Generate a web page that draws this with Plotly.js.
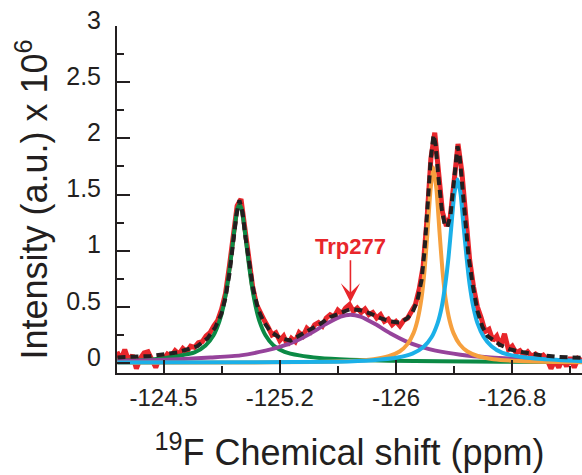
<!DOCTYPE html>
<html>
<head>
<meta charset="utf-8">
<script src="https://cdn.plot.ly/plotly-3.0.1.min.js"></script>
<style>html,body{margin:0;padding:0;background:#fff;}#chart{width:582px;height:475px;}</style>
</head>
<body>
<div id="chart"></div>
<script>
// ---- experimental spectrum (red), ppm and intensity (x 10^6) ----
const expPpm = [-124.2,-124.225,-124.25,-124.275,-124.3,-124.325,-124.35,-124.375,-124.4,-124.425,-124.45,-124.475,-124.5,-124.525,-124.55,-124.575,-124.6,-124.625,-124.65,-124.675,-124.7,-124.725,-124.75,-124.775,-124.8,-124.825,-124.85,-124.875,-124.9,-124.925,-124.95,-124.975,-125,-125.025,-125.05,-125.075,-125.1,-125.125,-125.15,-125.175,-125.2,-125.225,-125.25,-125.275,-125.3,-125.325,-125.35,-125.375,-125.4,-125.425,-125.45,-125.475,-125.5,-125.525,-125.55,-125.575,-125.6,-125.625,-125.65,-125.675,-125.7,-125.725,-125.75,-125.775,-125.8,-125.825,-125.85,-125.875,-125.9,-125.925,-125.95,-125.975,-126,-126.025,-126.05,-126.075,-126.1,-126.125,-126.15,-126.175,-126.2,-126.225,-126.25,-126.275,-126.3,-126.325,-126.35,-126.375,-126.4,-126.425,-126.45,-126.475,-126.5,-126.525,-126.55,-126.575,-126.6,-126.625,-126.65,-126.675,-126.7,-126.725,-126.75,-126.775,-126.8,-126.825,-126.85,-126.875,-126.9,-126.925,-126.95,-126.975,-127,-127.025,-127.05,-127.075,-127.1,-127.125,-127.15,-127.175,-127.2];
const expInt = [0.10,0.03,0.12,0.02,0.07,-0.05,0.04,0.09,0.10,0.03,-0.04,0.05,0.03,0.08,0.06,0.11,0.08,0.13,0.10,0.15,0.14,0.18,0.19,0.24,0.27,0.33,0.38,0.48,0.62,0.86,1.15,1.40,1.46,1.22,0.92,0.68,0.52,0.44,0.38,0.32,0.25,0.27,0.20,0.24,0.16,0.22,0.19,0.27,0.24,0.31,0.28,0.34,0.36,0.33,0.40,0.43,0.41,0.47,0.44,0.49,0.52,0.46,0.49,0.45,0.48,0.43,0.45,0.40,0.43,0.37,0.39,0.34,0.37,0.33,0.38,0.40,0.47,0.52,0.66,0.86,1.28,1.82,2.05,1.70,1.34,1.22,1.30,1.62,1.95,1.70,1.25,0.92,0.68,0.50,0.40,0.28,0.30,0.20,0.24,0.15,0.26,0.12,0.15,0.09,0.11,0.07,0.10,0.06,0.08,0.05,0.07,0.03,-0.05,0.02,-0.04,0.04,-0.03,0.05,-0.04,0.04,0.02];

// ---- total fit (black dashed) ----
const fitPpm = [-124.203,-124.416,-124.590,-124.719,-124.784,-124.835,-124.874,-124.900,-124.926,-124.952,-124.971,-124.990,-125.010,-125.029,-125.055,-125.081,-125.113,-125.145,-125.190,-125.255,-125.319,-125.384,-125.448,-125.513,-125.577,-125.642,-125.706,-125.771,-125.835,-125.900,-125.965,-126.029,-126.074,-126.106,-126.139,-126.165,-126.184,-126.203,-126.223,-126.242,-126.255,-126.274,-126.294,-126.313,-126.332,-126.352,-126.371,-126.384,-126.397,-126.410,-126.429,-126.448,-126.468,-126.494,-126.526,-126.558,-126.590,-126.674,-126.739,-126.823,-126.932,-127.042,-127.203];
const fitInt = [0.05,0.062,0.094,0.15,0.22,0.32,0.44,0.58,0.80,1.08,1.32,1.45,1.34,1.12,0.86,0.64,0.47,0.37,0.28,0.22,0.20,0.25,0.29,0.35,0.41,0.45,0.48,0.47,0.44,0.40,0.37,0.36,0.40,0.45,0.56,0.74,1.0,1.38,1.80,2.03,1.95,1.65,1.38,1.24,1.21,1.32,1.58,1.80,1.93,1.85,1.55,1.22,0.95,0.70,0.46,0.32,0.24,0.16,0.12,0.095,0.07,0.055,0.045];

// ---- component peaks ----
const greenPpm = [-124.203,-124.410,-124.603,-124.700,-124.771,-124.823,-124.861,-124.887,-124.913,-124.939,-124.965,-124.977,-124.990,-125.003,-125.016,-125.042,-125.068,-125.094,-125.119,-125.158,-125.210,-125.281,-125.377,-125.506,-125.700,-125.958,-126.281,-126.668,-127.203];
const greenInt = [0.022,0.03,0.065,0.094,0.156,0.247,0.373,0.507,0.705,0.976,1.269,1.372,1.41,1.372,1.269,0.976,0.705,0.507,0.373,0.247,0.156,0.1,0.068,0.045,0.03,0.02,0.015,0.012,0.01];

const purplePpm = [-124.203,-124.416,-124.629,-124.803,-124.997,-125.158,-125.255,-125.352,-125.448,-125.545,-125.642,-125.706,-125.771,-125.868,-125.965,-126.061,-126.158,-126.255,-126.416,-126.610,-126.803,-126.997,-127.203];
const purpleInt = [0.018,0.025,0.035,0.049,0.068,0.11,0.145,0.195,0.262,0.344,0.413,0.43,0.413,0.344,0.262,0.195,0.145,0.11,0.074,0.049,0.035,0.026,0.019];

const orangePpm = [-124.203,-124.952,-125.468,-125.694,-125.855,-125.952,-126.023,-126.074,-126.113,-126.139,-126.165,-126.184,-126.203,-126.223,-126.242,-126.261,-126.281,-126.300,-126.319,-126.345,-126.371,-126.410,-126.461,-126.532,-126.629,-126.790,-127.016,-127.203];
const orangeInt = [0.002,0.004,0.009,0.017,0.034,0.06,0.102,0.168,0.266,0.383,0.581,0.82,1.161,1.547,1.74,1.547,1.161,0.82,0.581,0.383,0.266,0.168,0.102,0.06,0.034,0.017,0.009,0.006];

const bluePpm = [-124.203,-125.106,-125.623,-125.848,-126.010,-126.106,-126.177,-126.229,-126.268,-126.294,-126.319,-126.339,-126.358,-126.377,-126.397,-126.416,-126.435,-126.455,-126.474,-126.500,-126.526,-126.565,-126.616,-126.687,-126.784,-126.945,-127.203];
const blueInt = [0.004,0.006,0.012,0.025,0.049,0.084,0.142,0.229,0.353,0.492,0.709,0.943,1.233,1.512,1.635,1.512,1.233,0.943,0.709,0.492,0.353,0.235,0.15,0.09,0.06,0.035,0.015];

// ---- axis ticks ----
const xTickVals = [-124.5,-125.25,-126,-126.75];
const xTickText = ['-124.5','-125.2','-126','-126.8'];
const xMinorVals = [-124.875,-125.625,-126.375,-127.125];
const yTickVals = [0,0.5,1,1.5,2,2.5,3];
const yTickText = ['0','0.5','1','1.5','2','2.5','3'];
const yMinorVals = [0.25,0.75,1.25,1.75,2.25,2.75];

// ---- annotation ----
const peakLabel = 'Trp277';
const peakLabelPpm = -125.706;
const peakLabelInt = 0.54;

const INK = '#231f20';
const FONT = 'Liberation Sans, Arial, Helvetica, sans-serif';

const traces = [
  {x: expPpm, y: expInt, mode: 'lines', line: {color: '#e8262b', width: 5}, hoverinfo: 'skip'},
  {x: greenPpm, y: greenInt, mode: 'lines', line: {color: '#0b8a45', width: 4, shape: 'spline', smoothing: 0.6}},
  {x: purplePpm, y: purpleInt, mode: 'lines', line: {color: '#96439b', width: 4, shape: 'spline', smoothing: 0.6}},
  {x: orangePpm, y: orangeInt, mode: 'lines', line: {color: '#f6a03e', width: 4, shape: 'spline', smoothing: 0.6}},
  {x: bluePpm, y: blueInt, mode: 'lines', line: {color: '#1bb0e8', width: 4, shape: 'spline', smoothing: 0.6}},
  {x: fitPpm, y: fitInt, mode: 'lines', line: {color: INK, width: 4, dash: '8px,5px'}}
];

const layout = {
  width: 582, height: 475,
  margin: {l: 117, r: 0, t: 26, b: 102},
  paper_bgcolor: '#ffffff', plot_bgcolor: '#ffffff',
  showlegend: false,
  font: {family: FONT, color: INK},
  xaxis: {
    range: [-124.2, -127.2],
    tickmode: 'array', tickvals: xTickVals, ticktext: xTickText,
    ticks: 'inside', ticklen: 13, tickwidth: 2, tickcolor: INK,
    minor: {tickmode: 'array', tickvals: xMinorVals, ticks: 'inside', ticklen: 7, tickwidth: 2, tickcolor: INK},
    showline: true, linecolor: INK, linewidth: 2,
    showgrid: false, zeroline: false,
    tickfont: {family: FONT, size: 24, color: INK},
    ticklabelstandoff: 2,
    title: {text: '<sup>19</sup>F Chemical shift (ppm)', font: {family: FONT, size: 36, color: INK}, standoff: 30}
  },
  yaxis: {
    range: [-0.089, 3],
    tickmode: 'array', tickvals: yTickVals, ticktext: yTickText,
    ticks: 'inside', ticklen: 13, tickwidth: 2, tickcolor: INK,
    minor: {tickmode: 'array', tickvals: yMinorVals, ticks: 'inside', ticklen: 7, tickwidth: 2, tickcolor: INK},
    showline: true, linecolor: INK, linewidth: 2,
    showgrid: false, zeroline: false,
    tickfont: {family: FONT, size: 25, color: INK},
    ticklabelstandoff: 9,
    ticklabelshift: -6,
    title: {text: 'Intensity (a.u.) x 10<sup>6</sup>', font: {family: FONT, size: 36, color: INK}, standoff: 8}
  },
  annotations: [{
    x: peakLabelPpm, y: peakLabelInt, xref: 'x', yref: 'y',
    text: '<b>' + peakLabel + '</b>',
    font: {family: FONT, size: 22, color: '#e8262b'},
    showarrow: true, arrowcolor: '#e8262b', arrowhead: 3, arrowsize: 2, arrowwidth: 1.6,
    ax: 0, ay: -56, standoff: 0
  }]
};

Plotly.newPlot('chart', traces, layout, {displayModeBar: false, staticPlot: true});
</script>
</body>
</html>
